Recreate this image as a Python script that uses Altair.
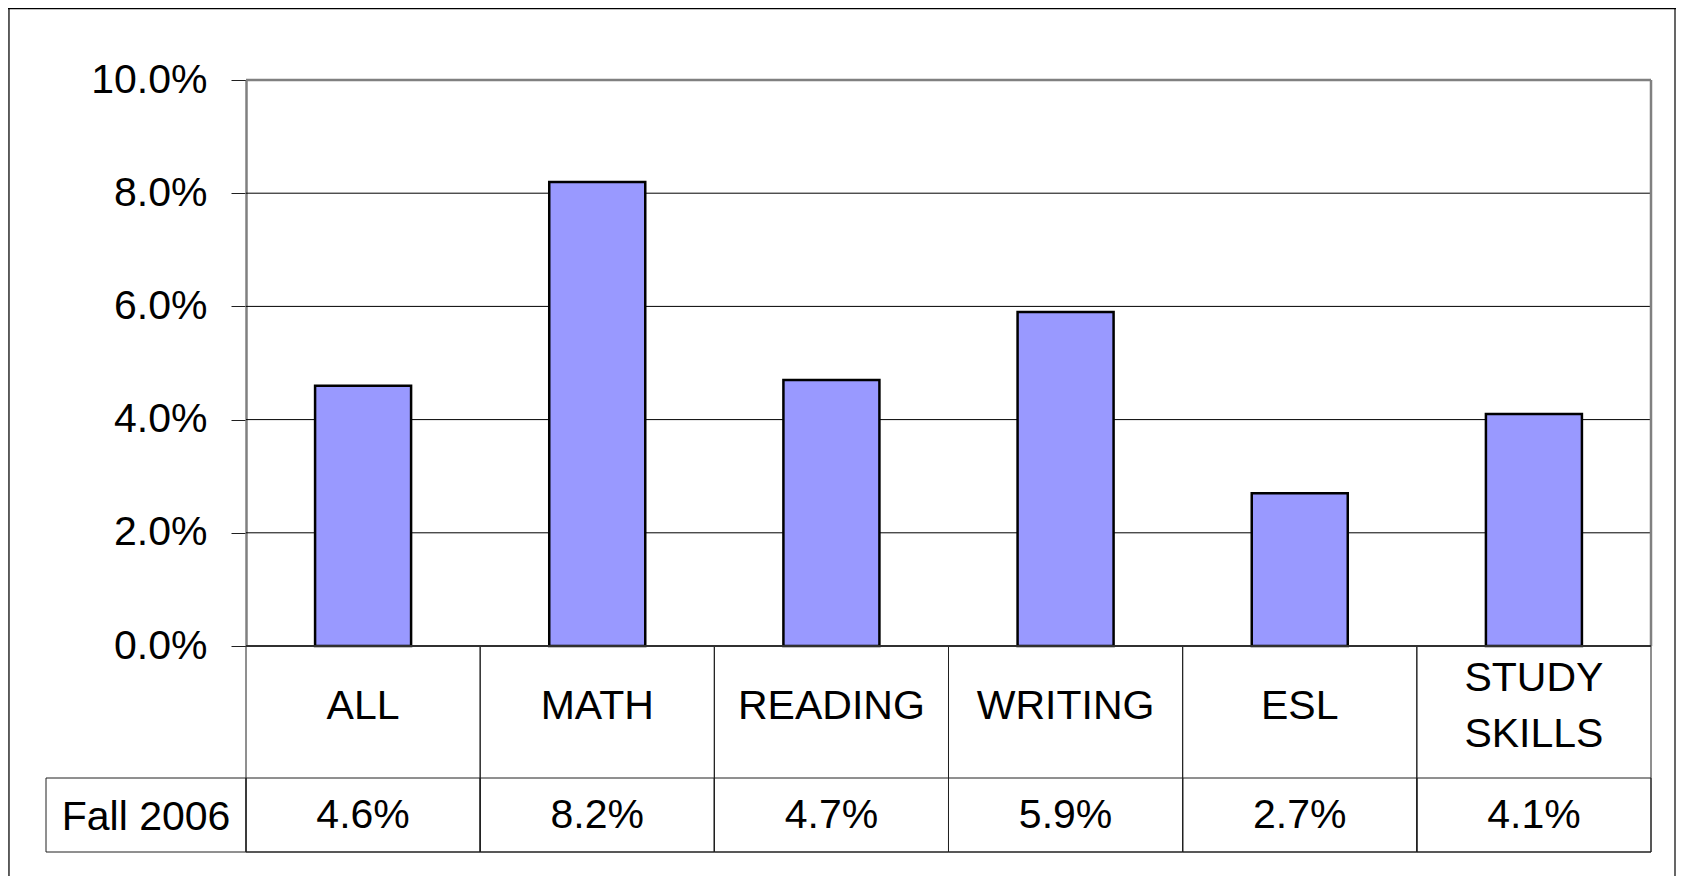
import altair as alt
import pandas as pd

# ---- data ----
categories = ["ALL", "MATH", "READING", "WRITING", "ESL", "STUDY SKILLS"]
cat_labels = ["ALL", "MATH", "READING", "WRITING", "ESL", "STUDY\nSKILLS"]
values = [0.046, 0.082, 0.047, 0.059, 0.027, 0.041]
series_name = ["Fall 2006"]
y_ticks = [0.0, 0.02, 0.04, 0.06, 0.08, 0.10]

# ---- layout (pixels inside the view) ----
W, H = 1668, 868
PL, PR, PT, P0 = 238, 1643, 72, 638     # plot area left/right/top/zero
R1, R2 = 770, 844                       # table row bottoms
LBL_L = 38                              # left edge of series label cell
CAT_MID = 699                           # vertical centre of category labels
LINE_H = 56
FONT = "Liberation Sans"
FS = 41

df = pd.DataFrame({"cat": categories, "label": cat_labels, "value": values})
df["vtext"] = [f"{v * 100:.1f}%" for v in values]
df["nlines"] = [lbl.count("\n") + 1 for lbl in cat_labels]
grid_df = pd.DataFrame({"g": y_ticks[1:-1]})
top_df = pd.DataFrame({"g": [y_ticks[-1]], "g0": [y_ticks[0]]})
zero_df = pd.DataFrame({"g": [y_ticks[0]]})
lab_df = pd.DataFrame({"s": series_name})

xs = alt.Scale(domain=categories, range=[PL, PR], paddingInner=0, paddingOuter=0)
ys = alt.Scale(domain=[y_ticks[0], y_ticks[-1]], range=[P0, PT], nice=False, zero=True)

y_axis = alt.Axis(values=y_ticks, format=".1%", offset=-PL, grid=False,
                  domainColor="#808080", domainWidth=2.5,
                  tickColor="#202020", tickWidth=1, tickSize=15,
                  labelFont=FONT, labelFontSize=FS, labelColor="black",
                  labelPadding=24, title=None)

X = alt.X("cat:N", scale=xs, axis=None, sort=categories)

frame_left = alt.Chart(lab_df).mark_rule(color="black", strokeWidth=1.2).encode(
    x=alt.value(1), y=alt.value(0), y2=alt.value(H))
frame_top = alt.Chart(lab_df).mark_rule(color="black", strokeWidth=1.2).encode(
    x=alt.value(0), x2=alt.value(W), y=alt.value(0.6))
frame_right = alt.Chart(lab_df).mark_rule(color="black", strokeWidth=1.2).encode(
    x=alt.value(W - 1), y=alt.value(0), y2=alt.value(H))

cells_cat = alt.Chart(df).mark_rect(fill="transparent", stroke="#202020", strokeWidth=1).encode(
    x=X, y=alt.value(P0), y2=alt.value(R2))
cells_val = alt.Chart(df).mark_rect(fill="transparent", stroke="#202020", strokeWidth=1).encode(
    x=X, y=alt.value(R1), y2=alt.value(R2))
cell_lab = alt.Chart(lab_df).mark_rect(fill="transparent", stroke="#202020", strokeWidth=1).encode(
    x=alt.value(LBL_L), x2=alt.value(PL), y=alt.value(R1), y2=alt.value(R2))

grid = alt.Chart(grid_df).mark_rule(color="black", strokeWidth=1).encode(
    y=alt.Y("g:Q", scale=ys, axis=y_axis), x=alt.value(PL), x2=alt.value(PR))
top_border = alt.Chart(top_df).mark_rule(color="#808080", strokeWidth=2.5).encode(
    y=alt.Y("g:Q", scale=ys, axis=y_axis), x=alt.value(PL), x2=alt.value(PR))
right_border = alt.Chart(top_df).mark_rule(color="#808080", strokeWidth=2.5).encode(
    y=alt.Y("g:Q", scale=ys, axis=y_axis), y2="g0:Q", x=alt.value(PR))

bars = alt.Chart(df).mark_bar(width=alt.RelativeBandSize(0.41), fill="#9999FF",
                              stroke="black", strokeWidth=2.5).encode(
    x=X, y=alt.Y("value:Q", scale=ys, axis=y_axis))

zero_line = alt.Chart(zero_df).mark_rule(color="#303030", strokeWidth=2).encode(
    y=alt.Y("g:Q", scale=ys, axis=y_axis), x=alt.value(PL), x2=alt.value(PR))

text_style = dict(font=FONT, fontSize=FS, color="black", align="center", baseline="middle")

cat_text_1 = alt.Chart(df).transform_filter("datum.nlines == 1").mark_text(**text_style).encode(
    x=X, y=alt.value(CAT_MID), text="label:N")
cat_text_2 = alt.Chart(df).transform_filter("datum.nlines == 2").mark_text(
    lineBreak="\n", lineHeight=LINE_H, **text_style).encode(
    x=X, y=alt.value(CAT_MID - LINE_H / 2), text="label:N")
val_text = alt.Chart(df).mark_text(**text_style).encode(
    x=X, y=alt.value(808), text="vtext:N")
lab_text = alt.Chart(lab_df).mark_text(**text_style).encode(
    x=alt.value((LBL_L + PL) / 2), y=alt.value(810), text="s:N")

chart = alt.layer(
    frame_left, frame_top, frame_right,
    cells_cat, cells_val, cell_lab,
    grid, top_border, right_border, bars, zero_line,
    cat_text_1, cat_text_2, val_text, lab_text,
).properties(
    width=W, height=H, padding=0,
    autosize=alt.AutoSizeParams(type="none"),
).configure_view(strokeOpacity=0).configure(background="white")

chart.save("out.html", embed_options={"renderer": "svg", "actions": False})
